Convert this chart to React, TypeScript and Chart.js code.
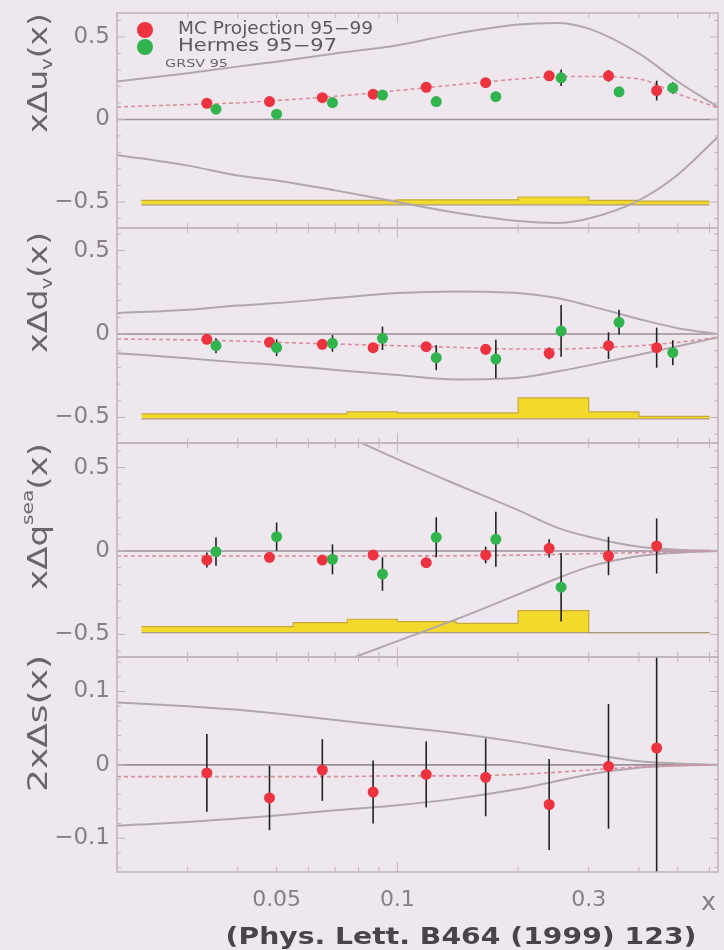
import React, { useEffect, useRef } from 'react';
import { Chart, registerables } from 'chart.js';

Chart.register(...registerables);

// ---------------- data ----------------
const X_MIN = 0.02;
const X_MAX = 0.63;
const X_TICKS = [0.05, 0.1, 0.3];
const X_TICK_LABELS = ['0.05', '0.1', '0.3'];
const X_MINOR = [0.03, 0.04, 0.05, 0.06, 0.07, 0.08, 0.09, 0.2, 0.3, 0.4, 0.5, 0.6];
const X_MAJOR = [0.1];

const RED_X = [0.0335, 0.048, 0.065, 0.087, 0.118, 0.166, 0.239, 0.336, 0.443];
const GREEN_X = [0.0353, 0.05, 0.0689, 0.0918, 0.125, 0.176, 0.256, 0.357, 0.486];
const SEA_GREEN_X = [0.0353, 0.05, 0.0689, 0.0918, 0.125, 0.176, 0.256];

// xΔu_v
const UV_RED = [0.098, 0.108, 0.132, 0.153, 0.195, 0.223, 0.264, 0.264, 0.175];
const UV_RED_ERR = [0.01, 0.01, 0.012, 0.012, 0.015, 0.02, 0.025, 0.035, 0.06];
const UV_GREEN = [0.062, 0.032, 0.102, 0.148, 0.108, 0.138, 0.252, 0.167, 0.191];
const UV_GREEN_ERR = [0.012, 0.015, 0.015, 0.02, 0.025, 0.03, 0.05, 0.03, 0.035];

// xΔd_v
const DV_RED = [-0.032, -0.05, -0.062, -0.082, -0.076, -0.092, -0.116, -0.07, -0.082];
const DV_RED_ERR = [0.012, 0.015, 0.015, 0.02, 0.025, 0.03, 0.035, 0.08, 0.12];
const DV_GREEN = [-0.07, -0.082, -0.056, -0.026, -0.142, -0.15, 0.018, 0.07, -0.112];
const DV_GREEN_ERR = [0.045, 0.05, 0.05, 0.07, 0.075, 0.115, 0.155, 0.075, 0.075];

// xΔq^sea
const SEA_RED = [-0.054, -0.038, -0.054, -0.024, -0.07, -0.024, 0.016, -0.03, 0.03];
const SEA_RED_ERR = [0.045, 0.03, 0.03, 0.03, 0.03, 0.05, 0.055, 0.115, 0.165];
const SEA_GREEN = [-0.004, 0.086, -0.05, -0.138, 0.082, 0.07, -0.217];
const SEA_GREEN_ERR = [0.085, 0.085, 0.09, 0.1, 0.12, 0.165, 0.205];

// 2xΔs
const S_RED = [-0.011, -0.045, -0.007, -0.037, -0.013, -0.017, -0.054, -0.002, 0.023];
const S_RED_ERR = [0.053, 0.044, 0.042, 0.043, 0.045, 0.053, 0.062, 0.085, 0.2];

// curves (GRSV 95 and bounds)
const CURVE_X = [0.02, 0.03, 0.04, 0.05, 0.07, 0.1, 0.14, 0.2, 0.25, 0.3, 0.4, 0.5, 0.63];
const UV_UPPER = [0.23, 0.28, 0.32, 0.35, 0.4, 0.45, 0.52, 0.575, 0.585, 0.55, 0.4, 0.23, 0.075];
const UV_LOWER = [-0.215, -0.28, -0.34, -0.37, -0.43, -0.5, -0.565, -0.615, -0.627, -0.6, -0.49, -0.335, -0.105];
const UV_GRSV = [0.075, 0.09, 0.1, 0.115, 0.14, 0.175, 0.21, 0.245, 0.26, 0.26, 0.245, 0.155, 0.07];

const DV_UPPER = [0.125, 0.145, 0.17, 0.185, 0.215, 0.245, 0.255, 0.245, 0.215, 0.17, 0.09, 0.035, 0.0];
const DV_LOWER = [-0.115, -0.145, -0.17, -0.185, -0.215, -0.245, -0.272, -0.262, -0.225, -0.188, -0.124, -0.074, -0.02];
const DV_GRSV = [-0.03, -0.035, -0.042, -0.05, -0.06, -0.07, -0.08, -0.09, -0.09, -0.085, -0.07, -0.05, -0.02];

const SEA_BOUND_X = [0.07, 0.1, 0.14, 0.2, 0.25, 0.3, 0.4, 0.5, 0.63];
const SEA_UPPER = [0.72, 0.55, 0.4, 0.245, 0.14, 0.085, 0.025, 0.008, 0.0];
const SEA_LOWER = [-0.68, -0.54, -0.41, -0.26, -0.165, -0.095, -0.03, -0.01, 0.0];
const SEA_GRSV = [-0.03, -0.03, -0.03, -0.03, -0.03, -0.03, -0.028, -0.025, -0.02, -0.016, -0.01, -0.005, 0];

const S_UPPER = [0.085, 0.08, 0.075, 0.07, 0.061, 0.052, 0.043, 0.031, 0.022, 0.015, 0.005, 0.002, 0];
const S_LOWER = [-0.083, -0.078, -0.073, -0.069, -0.062, -0.055, -0.046, -0.033, -0.022, -0.013, -0.004, -0.001, 0];
const S_GRSV = [-0.016, -0.016, -0.016, -0.016, -0.016, -0.015, -0.015, -0.013, -0.01, -0.007, -0.003, -0.001, 0];

// systematic error bands
const BIN_EDGES = [0.023, 0.04, 0.055, 0.075, 0.1, 0.14, 0.2, 0.3, 0.4, 0.6];
const UV_BAND_TOP = [-0.49, -0.49, -0.49, -0.49, -0.487, -0.487, -0.47, -0.49, -0.495, -0.495];
const UV_BAND_BASE = -0.518;
const DV_BAND_TOP = [-0.479, -0.479, -0.479, -0.467, -0.473, -0.473, -0.383, -0.467, -0.494, -0.494];
const DV_BAND_BASE = -0.509;
const SEA_BAND_TOP = [-0.453, -0.453, -0.429, -0.409, -0.423, -0.433, -0.357, -0.489, -0.489, -0.489];
const SEA_BAND_BASE = -0.489;

const Y_TICKS_Q = [-0.5, 0, 0.5];
const Y_LABELS_Q = ['\u22120.5', '0', '0.5'];
const Y_MINOR_Q = [-0.6, -0.4, -0.3, -0.2, -0.1, 0.1, 0.2, 0.3, 0.4, 0.6];
const Y_TICKS_S = [-0.1, 0, 0.1];
const Y_LABELS_S = ['\u22120.1', '0', '0.1'];
const Y_MINOR_S = [-0.14, -0.12, -0.08, -0.06, -0.04, -0.02, 0.02, 0.04, 0.06, 0.08, 0.12, 0.14];

const LEGEND_LABELS = ['MC Projection 95\u221299', 'Hermes 95\u221297', 'GRSV 95'];
const CITATION = '(Phys. Lett. B464 (1999) 123)';

// ---------------- styles ----------------
const BG = '#eee8ee';
const RED = '#ee3340';
const GREEN = '#31b34e';
const CURVE = '#b2a6ae';
const ZERO = '#9c8e98';
const GRSV_C = '#d98e9a';
const YELLOW = '#f3d92c';
const YELLOW_EDGE = '#c6a93a';
const FRAME = '#c2b4bc';
const TEXT = '#877e88';
const TITLE = '#6c646e';
const FAMILY = '"DejaVu Sans", sans-serif';

type Part = { t: string; k: 'n' | 'sub' | 'sup' };
interface Series { x: number[]; y: number[]; e: number[] }
interface PanelDef {
  top: number; bottom: number; yMin: number; yMax: number;
  yTicks: number[]; yLabels: string[]; yMinor: number[];
  title: Part[]; titleEnd: number; titleLen: number;
  red: Series; green?: Series;
  upper: { x: number[]; y: number[] }; lower: { x: number[]; y: number[] }; grsv: { x: number[]; y: number[] };
  band?: { top: number[]; base: number };
  legend?: boolean; bottomAxis?: boolean;
}

const PANELS: PanelDef[] = [
  {
    top: 13, bottom: 228, yMin: -0.658, yMax: 0.645,
    yTicks: Y_TICKS_Q, yLabels: Y_LABELS_Q, yMinor: Y_MINOR_Q,
    title: [{ t: 'x\u0394u', k: 'n' }, { t: 'v', k: 'sub' }, { t: '(x)', k: 'n' }], titleEnd: 13, titleLen: 120,
    red: { x: RED_X, y: UV_RED, e: UV_RED_ERR }, green: { x: GREEN_X, y: UV_GREEN, e: UV_GREEN_ERR },
    upper: { x: CURVE_X, y: UV_UPPER }, lower: { x: CURVE_X, y: UV_LOWER }, grsv: { x: CURVE_X, y: UV_GRSV },
    band: { top: UV_BAND_TOP, base: UV_BAND_BASE }, legend: true,
  },
  {
    top: 228, bottom: 443, yMin: -0.653, yMax: 0.635,
    yTicks: Y_TICKS_Q, yLabels: Y_LABELS_Q, yMinor: Y_MINOR_Q,
    title: [{ t: 'x\u0394d', k: 'n' }, { t: 'v', k: 'sub' }, { t: '(x)', k: 'n' }], titleEnd: 232, titleLen: 121,
    red: { x: RED_X, y: DV_RED, e: DV_RED_ERR }, green: { x: GREEN_X, y: DV_GREEN, e: DV_GREEN_ERR },
    upper: { x: CURVE_X, y: DV_UPPER }, lower: { x: CURVE_X, y: DV_LOWER }, grsv: { x: CURVE_X, y: DV_GRSV },
    band: { top: DV_BAND_TOP, base: DV_BAND_BASE },
  },
  {
    top: 443, bottom: 657, yMin: -0.635, yMax: 0.647,
    yTicks: Y_TICKS_Q, yLabels: Y_LABELS_Q, yMinor: Y_MINOR_Q,
    title: [{ t: 'x\u0394q', k: 'n' }, { t: 'sea', k: 'sup' }, { t: '(x)', k: 'n' }], titleEnd: 443, titleLen: 147,
    red: { x: RED_X, y: SEA_RED, e: SEA_RED_ERR }, green: { x: SEA_GREEN_X, y: SEA_GREEN, e: SEA_GREEN_ERR },
    upper: { x: SEA_BOUND_X, y: SEA_UPPER }, lower: { x: SEA_BOUND_X, y: SEA_LOWER }, grsv: { x: CURVE_X, y: SEA_GRSV },
    band: { top: SEA_BAND_TOP, base: SEA_BAND_BASE },
  },
  {
    top: 657, bottom: 872, yMin: -0.146, yMax: 0.147,
    yTicks: Y_TICKS_S, yLabels: Y_LABELS_S, yMinor: Y_MINOR_S,
    title: [{ t: '2x\u0394s(x)', k: 'n' }], titleEnd: 655, titleLen: 137,
    red: { x: RED_X, y: S_RED, e: S_RED_ERR },
    upper: { x: CURVE_X, y: S_UPPER }, lower: { x: CURVE_X, y: S_LOWER }, grsv: { x: CURVE_X, y: S_GRSV },
    bottomAxis: true,
  },
];

// ---------------- helpers ----------------
function stretchText(ctx: CanvasRenderingContext2D, text: string, x: number, y: number, font: string,
  width: number, color: string, align: 'left' | 'center') {
  ctx.save();
  ctx.font = font;
  const w = ctx.measureText(text).width;
  const k = width / w;
  ctx.translate(align === 'center' ? x - width / 2 : x, y);
  ctx.scale(k, 1);
  ctx.textAlign = 'left';
  ctx.textBaseline = 'middle';
  ctx.fillStyle = color;
  ctx.fillText(text, 0, 0);
  ctx.restore();
}

function drawRotatedTitle(ctx: CanvasRenderingContext2D, parts: Part[], ax: number, ay: number, len: number) {
  const size = 27;
  const fN = `${size}px ${FAMILY}`;
  const fS = `${Math.round(size * 0.6)}px ${FAMILY}`;
  ctx.save();
  const widths = parts.map((p) => { ctx.font = p.k === 'n' ? fN : fS; return ctx.measureText(p.t).width; });
  const total = widths.reduce((a, b) => a + b, 0);
  ctx.translate(ax, ay);
  ctx.rotate(-Math.PI / 2);
  ctx.scale(len / total, 1);
  ctx.fillStyle = TITLE;
  ctx.textAlign = 'left';
  ctx.textBaseline = 'middle';
  let cx = -total;
  parts.forEach((p, i) => {
    ctx.font = p.k === 'n' ? fN : fS;
    const dy = p.k === 'sub' ? size * 0.3 : p.k === 'sup' ? -size * 0.4 : 0;
    ctx.fillText(p.t, cx, dy);
    cx += widths[i];
  });
  ctx.restore();
}

const pts = (xs: number[], ys: number[]) => xs.map((x, i) => ({ x, y: ys[i] }));

function buildConfig(def: PanelDef, canvasTop: number): any {
  const datasets: any[] = [];
  if (def.green) {
    datasets.push({
      data: pts(def.green.x, def.green.y), errors: def.green.e, showLine: false,
      pointRadius: 5.5, pointHoverRadius: 5.5, pointBackgroundColor: GREEN, pointBorderWidth: 0, order: 0,
    });
  }
  datasets.push({
    data: pts(def.red.x, def.red.y), errors: def.red.e, showLine: false,
    pointRadius: 5.5, pointHoverRadius: 5.5, pointBackgroundColor: RED, pointBorderWidth: 0, order: 1,
  });
  datasets.push({
    data: pts(def.grsv.x, def.grsv.y), borderColor: GRSV_C, borderWidth: 1.6, borderDash: [4, 3],
    pointRadius: 0, cubicInterpolationMode: 'monotone', order: 2,
  });
  datasets.push({
    data: pts(def.upper.x, def.upper.y), borderColor: CURVE, borderWidth: 2,
    pointRadius: 0, cubicInterpolationMode: 'monotone', order: 3,
  });
  datasets.push({
    data: pts(def.lower.x, def.lower.y), borderColor: CURVE, borderWidth: 2,
    pointRadius: 0, cubicInterpolationMode: 'monotone', order: 3,
  });
  datasets.push({
    data: pts([X_MIN, X_MAX], [0, 0]), borderColor: ZERO, borderWidth: 1.6, pointRadius: 0, order: 4,
  });
  if (def.band) {
    datasets.push({
      data: pts([BIN_EDGES[0], BIN_EDGES[BIN_EDGES.length - 1]], [def.band.base, def.band.base]),
      borderColor: '#ab9c80', borderWidth: 1.2, pointRadius: 0, order: 5,
    });
    datasets.push({
      data: pts(BIN_EDGES, def.band.top), stepped: true, fill: { value: def.band.base },
      backgroundColor: YELLOW, borderColor: YELLOW_EDGE, borderWidth: 1.2, pointRadius: 0, order: 6,
    });
  }

  const errPlugin = {
    id: 'errbars',
    beforeDatasetDraw(chart: any, args: any) {
      const ds = chart.data.datasets[args.index];
      if (!ds.errors) return;
      const { ctx, chartArea: a } = chart;
      const xs = chart.scales.x;
      const ys = chart.scales.y;
      ctx.save();
      ctx.beginPath();
      ctx.rect(a.left, a.top, a.right - a.left, a.bottom - a.top);
      ctx.clip();
      ctx.strokeStyle = '#222';
      ctx.lineWidth = 1.6;
      ds.data.forEach((p: any, j: number) => {
        const e = ds.errors[j];
        const px = xs.getPixelForValue(p.x);
        ctx.beginPath();
        ctx.moveTo(px, ys.getPixelForValue(p.y + e));
        ctx.lineTo(px, ys.getPixelForValue(p.y - e));
        ctx.stroke();
      });
      ctx.restore();
    },
  };

  const framePlugin = {
    id: 'frame',
    afterDatasetsDraw(chart: any) {
      const { ctx, chartArea: a } = chart;
      const xs = chart.scales.x;
      const ys = chart.scales.y;
      ctx.save();
      ctx.strokeStyle = FRAME;
      ctx.lineWidth = 1;
      const line = (x1: number, y1: number, x2: number, y2: number) => {
        ctx.beginPath(); ctx.moveTo(x1, y1); ctx.lineTo(x2, y2); ctx.stroke();
      };
      X_MINOR.forEach((v) => { const px = xs.getPixelForValue(v); line(px, a.bottom, px, a.bottom - 5); line(px, a.top, px, a.top + 5); });
      X_MAJOR.forEach((v) => { const px = xs.getPixelForValue(v); line(px, a.bottom, px, a.bottom - 10); line(px, a.top, px, a.top + 10); });
      def.yMinor.forEach((v) => { const py = ys.getPixelForValue(v); line(a.left, py, a.left + 4, py); line(a.right, py, a.right - 4, py); });
      def.yTicks.forEach((v) => { const py = ys.getPixelForValue(v); line(a.left, py, a.left + 8, py); line(a.right, py, a.right - 8, py); });
      ctx.lineWidth = 1.6;
      ctx.strokeRect(a.left, a.top, a.right - a.left, a.bottom - a.top);
      ctx.restore();
    },
  };

  const textPlugin = {
    id: 'texts',
    afterDraw(chart: any) {
      const ctx = chart.ctx as CanvasRenderingContext2D;
      drawRotatedTitle(ctx, def.title, 40, def.titleEnd - canvasTop, def.titleLen);
      if (def.legend) {
        ctx.save();
        ctx.fillStyle = RED;
        ctx.beginPath(); ctx.arc(145, 30 - canvasTop, 8, 0, Math.PI * 2); ctx.fill();
        ctx.fillStyle = GREEN;
        ctx.beginPath(); ctx.arc(145, 47 - canvasTop, 8, 0, Math.PI * 2); ctx.fill();
        ctx.restore();
        stretchText(ctx, LEGEND_LABELS[0], 178, 30 - canvasTop, `17px ${FAMILY}`, 195, '#5e575f', 'left');
        stretchText(ctx, LEGEND_LABELS[1], 178, 47 - canvasTop, `17px ${FAMILY}`, 159, '#5e575f', 'left');
        stretchText(ctx, LEGEND_LABELS[2], 165, 64 - canvasTop, `11px ${FAMILY}`, 63, '#6a636b', 'left');
      }
      if (def.bottomAxis) {
        stretchText(ctx, 'x', 701, 904 - canvasTop, `24px ${FAMILY}`, 15, TEXT, 'left');
        stretchText(ctx, CITATION, 461, 938 - canvasTop, `bold 23px ${FAMILY}`, 471, '#4a444a', 'center');
      }
    },
  };

  const noPad = (s: any) => { s.paddingTop = 0; s.paddingBottom = 0; s.paddingLeft = 0; s.paddingRight = 0; };

  return {
    type: 'line',
    data: { datasets },
    options: {
      animation: false,
      responsive: false,
      maintainAspectRatio: false,
      events: [],
      layout: { autoPadding: false, padding: { top: 8, bottom: def.bottomAxis ? 0 : 8, left: 0, right: 6 } },
      plugins: { legend: { display: false }, tooltip: { enabled: false } },
      scales: {
        x: {
          type: 'logarithmic', min: X_MIN, max: X_MAX, display: !!def.bottomAxis,
          grid: { display: false, drawTicks: false }, border: { display: false },
          afterBuildTicks: (s: any) => { s.ticks = X_TICKS.map((v) => ({ value: v })); },
          afterFit: (s: any) => { noPad(s); if (def.bottomAxis) s.height = 78; },
          ticks: {
            callback: (_v: any, i: number) => X_TICK_LABELS[i], color: TEXT, padding: 15,
            font: { family: FAMILY, size: 22 }, autoSkip: false, maxRotation: 0,
          },
        },
        y: {
          type: 'linear', min: def.yMin, max: def.yMax,
          grid: { display: false, drawTicks: false }, border: { display: false },
          afterBuildTicks: (s: any) => { s.ticks = def.yTicks.map((v) => ({ value: v })); },
          afterFit: (s: any) => { noPad(s); s.width = 117; },
          ticks: {
            callback: (_v: any, i: number) => def.yLabels[i], color: TEXT, padding: 7,
            font: { family: FAMILY, size: 23 }, autoSkip: false,
          },
        },
      },
    },
    plugins: [errPlugin, framePlugin, textPlugin],
  };
}

function Panel({ def }: { def: PanelDef }) {
  const ref = useRef<HTMLCanvasElement>(null);
  const canvasTop = def.top - 8;
  const canvasH = def.bottomAxis ? 950 - canvasTop : def.bottom - def.top + 16;
  useEffect(() => {
    const chart = new Chart(ref.current as HTMLCanvasElement, buildConfig(def, canvasTop));
    return () => chart.destroy();
  }, []);
  return (
    <canvas
      ref={ref}
      width={724}
      height={canvasH}
      style={{ position: 'absolute', left: 0, top: canvasTop, width: 724, height: canvasH, display: 'block' }}
    />
  );
}

export default function App() {
  return (
    <div style={{ position: 'fixed', left: 0, top: 0, width: 724, height: 950, background: BG, overflow: 'hidden' }}>
      {PANELS.map((p, i) => <Panel key={i} def={p} />)}
    </div>
  );
}
